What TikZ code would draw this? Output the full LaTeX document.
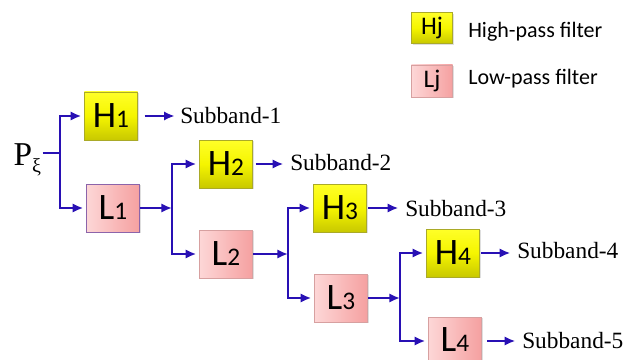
\documentclass[tikz,border=0pt]{standalone}
\usepackage{fontspec}
\setmainfont{Liberation Serif}
\newfontfamily\boxfont{Carlito}
\usetikzlibrary{arrows.meta,shadows}
\definecolor{wirec}{RGB}{40,16,180}
\definecolor{ybord}{RGB}{170,170,40}
\definecolor{ytop}{RGB}{255,255,40}
\definecolor{ymid}{RGB}{245,245,0}
\definecolor{ybot}{RGB}{200,200,0}
\definecolor{pleft}{RGB}{253,215,215}
\definecolor{pright}{RGB}{245,160,160}
\definecolor{pbord}{RGB}{215,160,160}
\definecolor{lbord}{RGB}{140,100,170}
\newcommand{\boxlab}[2]{{\boxfont\fontsize{28}{28}\selectfont #1\fontsize{19}{19}\selectfont #2}}
\begin{document}
\begin{tikzpicture}[x=0.75pt,y=-0.75pt,
  fbox/.style={minimum width=40pt,minimum height=36pt,inner sep=0pt,line width=0.6pt,
     drop shadow={shadow xshift=1pt,shadow yshift=-1pt,opacity=0.25}},
  hbox/.style={fbox,draw=ybord,top color=ytop,bottom color=ybot,middle color=ymid},
  lbox/.style={fbox,draw=pbord,left color=pleft,right color=pright},
  wire/.style={draw=wirec,line width=2.2pt},
  arr/.style={wire,-{Latex[length=8pt,width=7pt]}},
  sub/.style={anchor=west,inner sep=0pt,font=\fontsize{17.5}{18}\selectfont},
  leg/.style={anchor=west,inner sep=0pt,font=\boxfont\fontsize{16.5}{18}\selectfont}]
\useasboundingbox (0,0) rectangle (625,360);
% legend
\node[hbox,minimum width=31pt,minimum height=23pt] (lh) at (432,28) {{\boxfont\fontsize{19}{19}\selectfont Hj}};
\node[leg] (lht) at (468,32) {High-pass filter};
\node[lbox,minimum width=31pt,minimum height=24pt] (ll) at (432,81) {{\boxfont\fontsize{19}{19}\selectfont Lj}};
\node[leg] (llt) at (468,79) {Low-pass filter};
% filters
\node[hbox] (H1) at (111,116) {\boxlab{H}{1}};
\node[lbox,draw=lbord] (L1) at (113,208) {\boxlab{L}{1}};
\node[hbox] (H2) at (226,164) {\boxlab{H}{2}};
\node[lbox] (L2) at (226,254) {\boxlab{L}{2}};
\node[hbox] (H3) at (340,208) {\boxlab{H}{3}};
\node[lbox] (L3) at (341,298) {\boxlab{L}{3}};
\node[hbox] (H4) at (453,253) {\boxlab{H}{4}};
\node[lbox] (L4) at (455,341) {\raisebox{2pt}{\boxlab{L}{4}}};
% input
\node[anchor=base west,inner sep=1pt,font=\fontsize{25}{26}\selectfont] (P) at (12,166) {P\raisebox{-5pt}{\fontsize{15}{15}\selectfont ξ}};
% outputs
\node[sub] (S1) at (180,116) {Subband-1};
\node[sub] (S2) at (290,163) {Subband-2};
\node[sub] (S3) at (405,209) {Subband-3};
\node[sub] (S4) at (517,251) {Subband-4};
\node[sub] (S5) at (522,341) {Subband-5};
% junctions
\coordinate (j1) at (60,153);
\coordinate (j2) at (172,208);
\coordinate (j3) at (288,254);
\coordinate (j4) at (400,298);
% wires
\draw[wire] (P.east |- j1) -- (j1);
\draw[arr,shorten >=2pt] (j1) |- (H1.west);
\draw[arr,shorten >=2pt] (j1) |- (L1.west);
\draw[arr] (L1.east) -- (j2);
\draw[arr,shorten >=2pt] (j2) |- (H2.west);
\draw[arr,shorten >=2pt] (j2) |- (L2.west);
\draw[arr] (L2.east) -- (j3);
\draw[arr,shorten >=2pt] (j3) |- (H3.west);
\draw[arr,shorten >=2pt] (j3) |- (L3.west);
\draw[arr] (L3.east) -- (j4);
\draw[arr,shorten >=2pt] (j4) |- (H4.west);
\draw[arr,shorten >=2pt] (j4) |- (L4.west);
\draw[arr,shorten <=5pt,shorten >=4pt] (H1.east) -- (S1.west);
\draw[arr,shorten <=2pt,shorten >=5pt] (H2.east) -- (S2.west |- H2.east);
\draw[arr,shorten <=1pt,shorten >=5pt] (H3.east) -- (S3.west |- H3.east);
\draw[arr,shorten <=1pt,shorten >=5pt] (H4.east) -- (S4.west |- H4.east);
\draw[arr,shorten <=4pt,shorten >=5pt] (L4.east) -- (S5.west |- L4.east);
\end{tikzpicture}
\end{document}
